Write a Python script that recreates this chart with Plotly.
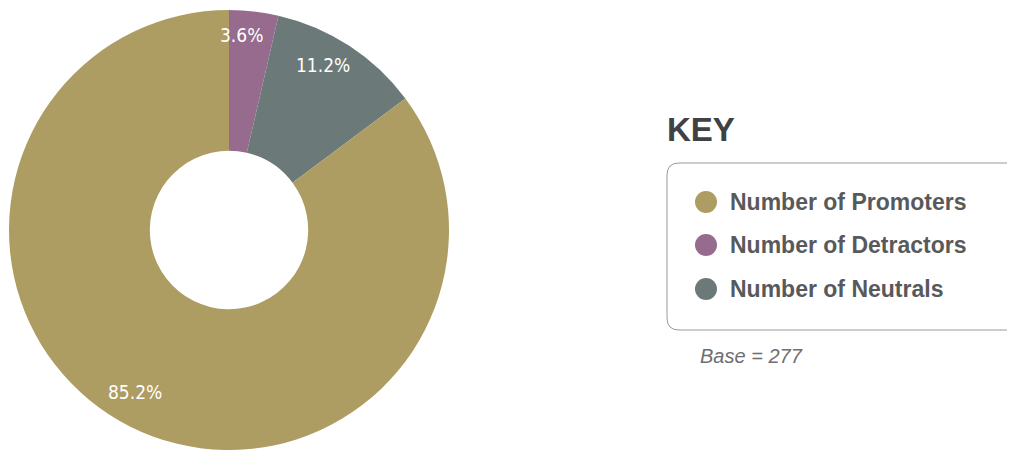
import math
import plotly.graph_objects as go

# ---- data ----
slice_labels = ["Number of Detractors", "Number of Neutrals", "Number of Promoters"]
slice_counts = [10, 31, 236]
slice_colors = ["#966b8e", "#6b7a79", "#ad9d63"]

legend_labels = ["Number of Promoters", "Number of Detractors", "Number of Neutrals"]
legend_colors = ["#ad9d63", "#966b8e", "#6b7a79"]
key_title = "KEY"
base_text = "Base = 277"

OFF = 8  # default page body margin in the browser
W, H = 1015 - OFF, 450 - OFF


def px(x):
    return (x - OFF) / W


def py(y):
    return 1 - (y - OFF) / H


# donut geometry (page pixels)
cx, cy, R = 229, 230, 220

fig = go.Figure()
fig.add_trace(go.Pie(
    labels=slice_labels,
    values=slice_counts,
    marker=dict(colors=slice_colors, line=dict(width=0)),
    hole=0.36,
    sort=False,
    direction="clockwise",
    rotation=0,
    textinfo="none",
    hoverinfo="label+percent",
    showlegend=False,
    domain=dict(x=[px(cx - R), px(cx + R)], y=[max(0, py(cy + R)), py(cy - R)]),
))

annotations = []
shapes = []

# percentage labels placed inside each slice
total = sum(slice_counts)
cum = 0
for v in slice_counts:
    mid = (cum + v / 2) / total * 2 * math.pi
    cum += v
    r = 0.86 * R
    x = cx + r * math.sin(mid)
    y = cy - r * math.cos(mid)
    annotations.append(dict(
        x=px(x), y=py(y), xref="paper", yref="paper",
        xanchor="center", yanchor="middle",
        text=f"{v / total * 100:.1f}%", showarrow=False,
        xshift=-9, yshift=7,
        font=dict(family="DejaVu Sans Condensed, DejaVu Sans, sans-serif",
                  size=19, color="white"),
    ))

# KEY title
annotations.append(dict(
    x=px(665), y=py(129), xref="paper", yref="paper", xanchor="left", yanchor="middle",
    text=f"<b>{key_title}</b>", showarrow=False,
    font=dict(family="Liberation Sans, Arial, sans-serif", size=33, color="#414042"),
))

# rounded legend box (runs past the right edge, as in the original)
x0, x1, y0, y1, rr = 667, 1030, 163, 330, 12
path = (
    f"M {px(x0 + rr)},{py(y0)} L {px(x1 - rr)},{py(y0)} "
    f"Q {px(x1)},{py(y0)} {px(x1)},{py(y0 + rr)} L {px(x1)},{py(y1 - rr)} "
    f"Q {px(x1)},{py(y1)} {px(x1 - rr)},{py(y1)} L {px(x0 + rr)},{py(y1)} "
    f"Q {px(x0)},{py(y1)} {px(x0)},{py(y1 - rr)} L {px(x0)},{py(y0 + rr)} "
    f"Q {px(x0)},{py(y0)} {px(x0 + rr)},{py(y0)} Z"
)
shapes.append(dict(type="path", xref="paper", yref="paper", path=path,
                   line=dict(color="#9a9a9a", width=1), fillcolor="rgba(0,0,0,0)"))

# legend entries
row_y = [202, 245, 289]
cr = 11
for lab, col, yy in zip(legend_labels, legend_colors, row_y):
    shapes.append(dict(type="circle", xref="paper", yref="paper",
                       x0=px(706 - cr), x1=px(706 + cr), y0=py(yy + cr), y1=py(yy - cr),
                       fillcolor=col, line=dict(width=0)))
    annotations.append(dict(
        x=px(728), y=py(yy), xref="paper", yref="paper", xanchor="left", yanchor="middle",
        text=f"<b>{lab}</b>", showarrow=False,
        font=dict(family="Liberation Sans, Arial, sans-serif", size=23, color="#58595b"),
    ))

# base note
annotations.append(dict(
    x=px(698), y=py(356), xref="paper", yref="paper", xanchor="left", yanchor="middle",
    text=f"<i>{base_text}</i>", showarrow=False,
    font=dict(family="Liberation Sans, Arial, sans-serif", size=20, color="#6d6e71"),
))

fig.update_layout(
    width=W, height=H,
    margin=dict(l=0, r=0, t=0, b=0),
    paper_bgcolor="white", plot_bgcolor="white",
    annotations=annotations, shapes=shapes,
    showlegend=False,
)

fig.write_html("out.html", config={"displayModeBar": False})
